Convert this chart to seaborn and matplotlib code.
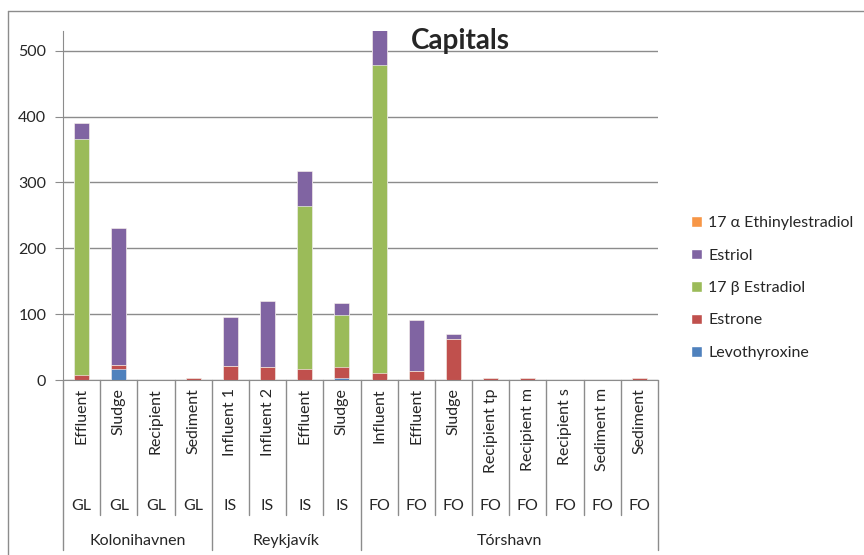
import pandas as pd
import seaborn as sns
import matplotlib.pyplot as plt
from matplotlib.lines import Line2D
from matplotlib.patches import Patch

cities = ["Kolonihavnen", "Reykjavík", "Tórshavn"]
codes = ["GL"] * 4 + ["IS"] * 4 + ["FO"] * 8
samples = ["Effluent", "Sludge", "Recipient", "Sediment",
           "Influent 1", "Influent 2", "Effluent", "Sludge",
           "Influent", "Effluent", "Sludge", "Recipient tp", "Recipient m",
           "Recipient s", "Sediment m", "Sediment"]
group_sizes = [4, 4, 8]

# stacked from bottom to top
levothyroxine = [0, 16, 0, 0, 0, 0, 0, 3, 0, 0, 0, 0, 0, 0, 0, 0]
estrone = [7, 7, 0, 3, 22, 20, 16, 17, 11, 13, 63, 3, 3, 0, 0, 3]
estradiol_b = [359, 0, 0, 0, 0, 0, 248, 79, 467, 0, 0, 0, 0, 0, 0, 0]
estriol = [24, 208, 0, 0, 73, 100, 54, 18, 60, 78, 7, 0, 0, 0, 0, 0]
ethinylestradiol = [0] * 16

series = ["Levothyroxine", "Estrone", "17 β Estradiol", "Estriol", "17 α Ethinylestradiol"]
colors = ["#4F81BD", "#C0504D", "#9BBB59", "#8064A2", "#F79646"]

keys = [f"{i:02d} {c} {s}" for i, (c, s) in enumerate(zip(codes, samples))]
df = pd.DataFrame({"key": keys, "Levothyroxine": levothyroxine, "Estrone": estrone,
                   "17 β Estradiol": estradiol_b, "Estriol": estriol,
                   "17 α Ethinylestradiol": ethinylestradiol})
cum = df[series].cumsum(axis=1)

sns.set_style("white")
plt.rcParams['font.family'] = ['Lato', 'DejaVu Sans']

fs = 11.5
fig = plt.figure(figsize=(8.64, 5.55), dpi=100)
ax = fig.add_axes([63 / 864, 175 / 555, 595 / 864, 349 / 555])

# draw cumulative totals, top series first so lower ones cover them
for name, col in zip(series[::-1], colors[::-1]):
    sns.barplot(x=df["key"], y=cum[name], color=col, width=0.4, ax=ax,
                order=keys, edgecolor="white", linewidth=0.4, saturation=1)

ax.set_ylim(0, 530)
ax.set_xlim(-0.5, len(keys) - 0.5)
ax.set_yticks([0, 100, 200, 300, 400, 500])
ax.yaxis.grid(True, color="#8c8c8c", linewidth=1)
ax.set_axisbelow(True)
ax.set_xlabel("")
ax.set_ylabel("")
ax.set_xticks(range(len(keys)))
ax.set_xticklabels([""] * len(keys))
ax.tick_params(axis="x", length=0)
ax.tick_params(axis="y", length=6, color="#8c8c8c", labelsize=fs, pad=6, left=True)
for side in ["top", "right"]:
    ax.spines[side].set_visible(False)
for side in ["left", "bottom"]:
    ax.spines[side].set_color("#8c8c8c")

# multi-level category labels
trans = ax.get_xaxis_transform()
ypx = lambda p: -(p - 380) / 349
for i, (s, c) in enumerate(zip(samples, codes)):
    ax.text(i, ypx(388), s, rotation=90, ha="center", va="top", fontsize=fs, transform=trans)
    ax.text(i, ypx(506), c, ha="center", va="center", fontsize=fs, transform=trans)
start = 0
bounds = [-0.5]
for city, n in zip(cities, group_sizes):
    ax.text(start + n / 2 - 0.5, ypx(541), city, ha="center", va="center", fontsize=fs, transform=trans)
    start += n
    bounds.append(start - 0.5)
for b in range(len(keys) + 1):
    x = b - 0.5
    bottom = ypx(550) if x in bounds else ypx(515)
    ax.plot([x, x], [0, bottom], color="#8c8c8c", linewidth=1, transform=trans, clip_on=False)

fig.text(460 / 864, 1 - 41 / 555, "Capitals", fontsize=20, fontweight="bold", ha="center", va="center")

handles = [Patch(facecolor=c, label=n) for n, c in zip(series[::-1], colors[::-1])]
fig.legend(handles=handles, loc="upper left", bbox_to_anchor=(685 / 864, 1 - 210 / 555),
           frameon=False, fontsize=fs, handlelength=0.65, handleheight=0.65,
           handletextpad=0.4, labelspacing=1.15, borderaxespad=0)

# outer chart frame
fig.add_artist(Line2D([8 / 864, 8 / 864], [0, 1 - 11 / 555], color="#8c8c8c", linewidth=1))
fig.add_artist(Line2D([8 / 864, 1], [1 - 11 / 555, 1 - 11 / 555], color="#8c8c8c", linewidth=1))

fig.savefig("out.png", dpi=100)
